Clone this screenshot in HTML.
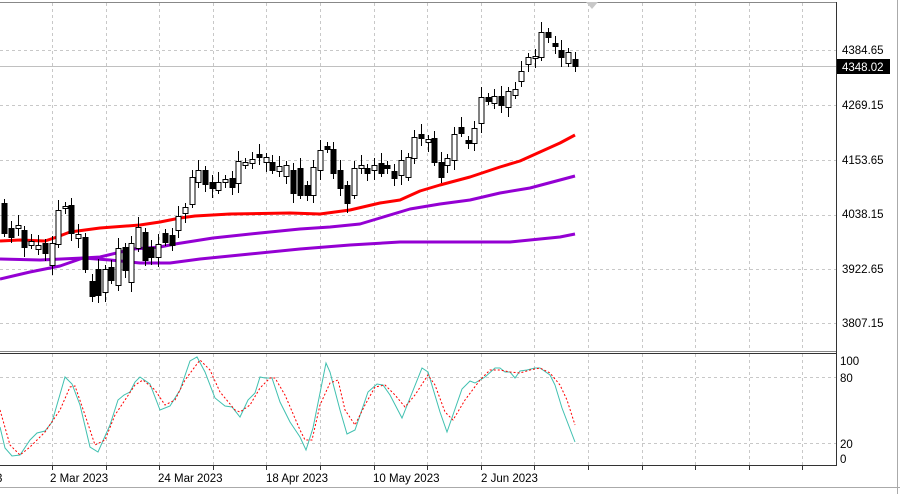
<!DOCTYPE html>
<html><head><meta charset="utf-8"><style>
html,body{margin:0;padding:0;background:#fff;width:900px;height:494px;overflow:hidden}
svg{display:block;font-family:"Liberation Sans",sans-serif;font-size:11.5px}
</style></head><body>
<svg id="s" width="900" height="494" xmlns="http://www.w3.org/2000/svg">
<rect x="0" y="0" width="900" height="494" fill="#fff"/>
<g id="grid" stroke="#c8c8c8" stroke-dasharray="3,3" stroke-width="1"></g>
<line x1="0" y1="66.5" x2="836" y2="66.5" stroke="#c0c0c0"/>
<line x1="0" y1="2.5" x2="836" y2="2.5" stroke="#888"/>
<line x1="0" y1="351.5" x2="836" y2="351.5" stroke="#888"/>
<line x1="0" y1="353.5" x2="836" y2="353.5" stroke="#333"/>
<line x1="0" y1="465.5" x2="836" y2="465.5" stroke="#333"/>
<line x1="836.5" y1="2" x2="836.5" y2="466" stroke="#333"/>
<line x1="897.5" y1="0" x2="897.5" y2="494" stroke="#aaa"/>
<line x1="0" y1="487.5" x2="900" y2="487.5" stroke="#aaa"/>
<polygon points="586,2 598,2 592,9" fill="#c8c8c8"/>
<g id="ma" fill="none" stroke-width="3" stroke-linejoin="round"></g>
<g id="c"></g>
<g id="st" fill="none" stroke-width="1"></g>
<g fill="#000">
<text x="842" y="54">4384.65</text>
<text x="842" y="109">4269.15</text>
<text x="842" y="164">4153.65</text>
<text x="842" y="218">4038.15</text>
<text x="842" y="273">3922.65</text>
<text x="842" y="327">3807.15</text>
<rect x="837" y="59" width="53" height="15" fill="#000"/>
<text x="842" y="71" fill="#fff">4348.02</text>
<text x="840" y="365">100</text>
<text x="840" y="382">80</text>
<text x="840" y="448">20</text>
<text x="840" y="463">0</text>
<text x="-4" y="482">3</text>
<text x="50" y="482">2 Mar 2023</text>
<text x="158" y="482">24 Mar 2023</text>
<text x="266" y="482">18 Apr 2023</text>
<text x="373" y="482">10 May 2023</text>
<text x="481" y="482">2 Jun 2023</text>
</g>
</svg>
<script>
var NS="http://www.w3.org/2000/svg";
function el(p,t,a){var e=document.createElementNS(NS,t);for(var k in a)e.setAttribute(k,a[k]);p.appendChild(e);return e;}
var g=document.getElementById('grid');
for(var i=0;i<15;i++){var x=Math.round(52+53.6*i)+0.5;if(x>836)break;el(g,'line',{x1:x,y1:3,x2:x,y2:351});el(g,'line',{x1:x,y1:354,x2:x,y2:465});el(g,'line',{x1:x,y1:466,x2:x,y2:470,'stroke-dasharray':'none',stroke:'#333'});}
[50,105,160,215,269,323,377,443].forEach(function(y){el(g,'line',{x1:0,y1:y+.5,x2:836,y2:y+.5});});
var ma=document.getElementById('ma');
function pl(pts,col,w,da){el(ma,'polyline',{points:pts.map(function(p){return p.join(',')}).join(' '),stroke:col,'stroke-width':w||3,'stroke-dasharray':da||'none'});}
pl([[0,279],[30,272],[60,266],[83,258],[100,257],[133,249],[160,247],[175,244],[213,238],[260,233],[300,229],[330,227],[360,224],[380,218],[410,209],[440,204],[470,200],[500,193],[530,188],[560,180],[575,176]],'#9400d3');
pl([[0,259],[40,260],[83,258],[110,260],[140,263],[170,263],[200,259],[250,254],[300,249],[350,245],[400,242],[450,242],[510,242],[530,240],[560,237],[575,234]],'#9400d3');
pl([[0,241],[20,240],[45,241],[57,237],[70,232],[100,228],[140,225],[160,222],[180,218],[195,216],[230,214],[290,213],[320,214],[350,210],[380,203],[400,200],[420,191],[440,185],[470,177],[500,167],[520,161],[540,152],[560,143],[575,135]],'#ff0000');
var C=[[4,203,233,0],[11,228,237,0],[18,225,228,1],[24,230,247,0],[31,241,245,1],[38,245,249,1],[45,243,253,0],[52,243,265,1],[58,210,244,1],[65,206,208,1],[71,205,233,0],[78,234,238,1],[85,237,269,0],[92,281,296,0],[98,269,295,0],[105,269,292,1],[111,267,280,0],[118,248,285,1],[125,247,270,0],[131,243,282,1],[138,227,248,1],[145,232,260,0],[151,247,257,0],[158,244,257,1],[165,233,242,0],[172,235,245,0],[178,216,230,1],[185,207,213,1],[192,177,204,1],[198,170,182,1],[205,170,184,0],[212,182,188,0],[218,182,190,1],[225,179,182,1],[232,178,187,0],[238,161,183,1],[245,162,165,1],[252,159,163,1],[259,154,157,0],[266,157,162,1],[272,162,170,0],[279,166,171,1],[286,165,176,1],[293,170,193,0],[300,168,195,0],[307,185,195,0],[313,167,195,1],[320,150,170,1],[327,146,149,0],[333,149,173,0],[340,170,188,0],[347,185,203,0],[354,168,195,1],[361,165,168,1],[367,168,173,0],[374,165,170,1],[381,163,173,0],[387,165,168,0],[394,171,178,0],[401,160,175,1],[408,157,177,1],[414,137,158,1],[421,134,138,0],[428,139,142,1],[434,138,162,0],[441,162,177,0],[447,158,165,1],[454,134,160,1],[461,127,133,0],[468,140,143,0],[474,128,143,1],[481,97,123,1],[488,97,101,0],[494,96,103,1],[501,96,105,0],[508,91,107,1],[515,89,95,1],[521,71,81,1],[528,57,64,1],[535,56,58,1],[541,32,57,1],[548,32,37,0],[555,43,46,0],[561,50,57,0],[568,52,63,1],[575,59,66,0]];
var cg=document.getElementById('c');
C.forEach(function(c,i){var x=c[0],t=c[1],b=c[2];var h=t-4-(i%3)*3,l=b+4+(i%4)*2;
el(cg,'line',{x1:x+.5,y1:h,x2:x+.5,y2:l,stroke:'#000'});
el(cg,'rect',{x:x-2,y:t+.5,width:5,height:Math.max(1,b-t),fill:c[3]?'#fff':'#000',stroke:'#000','stroke-width':1});});
var st=document.getElementById('st');
function sl(pts,col,da){el(st,'polyline',{points:pts.map(function(p){return p.join(',')}).join(' '),stroke:col,'stroke-dasharray':da||'none'});}
sl([[0,427],[5,448],[12,456],[20,455],[30,440],[37,433],[45,431],[52,422],[65,377],[72,384],[80,405],[90,447],[98,452],[110,425],[118,400],[124,395],[130,392],[135,382],[140,377],[150,384],[160,410],[170,406],[180,390],[190,361],[197,357],[205,372],[215,398],[225,406],[232,407],[240,417],[248,400],[255,393],[260,377],[265,378],[272,378],[280,402],[290,422],[300,437],[306,450],[313,428],[326,363],[330,372],[340,410],[347,434],[355,430],[368,392],[377,384],[383,385],[390,395],[402,418],[410,398],[422,368],[428,372],[440,412],[447,432],[462,389],[470,381],[475,383],[485,377],[495,368],[500,368],[505,372],[510,372],[515,378],[520,371],[527,370],[535,368],[540,368],[550,375],[555,385],[562,408],[575,442]],'#40c0b0');
sl([[0,410],[10,445],[20,455],[30,447],[45,432],[60,410],[70,387],[75,386],[85,415],[95,445],[105,440],[115,415],[125,400],[135,385],[143,380],[155,390],[165,405],[175,400],[185,380],[200,360],[210,370],[220,392],[235,410],[240,412],[250,405],[260,388],[270,378],[275,378],[285,395],[300,430],[305,440],[312,440],[320,405],[330,383],[338,380],[345,410],[355,425],[365,405],[375,387],[385,385],[395,395],[405,407],[415,395],[428,375],[435,385],[445,412],[453,420],[465,400],[480,380],[490,370],[500,370],[510,372],[520,373],[530,370],[540,368],[550,373],[560,385],[567,400],[575,425]],'#ff0000','2,2');
</script>
</body></html>
